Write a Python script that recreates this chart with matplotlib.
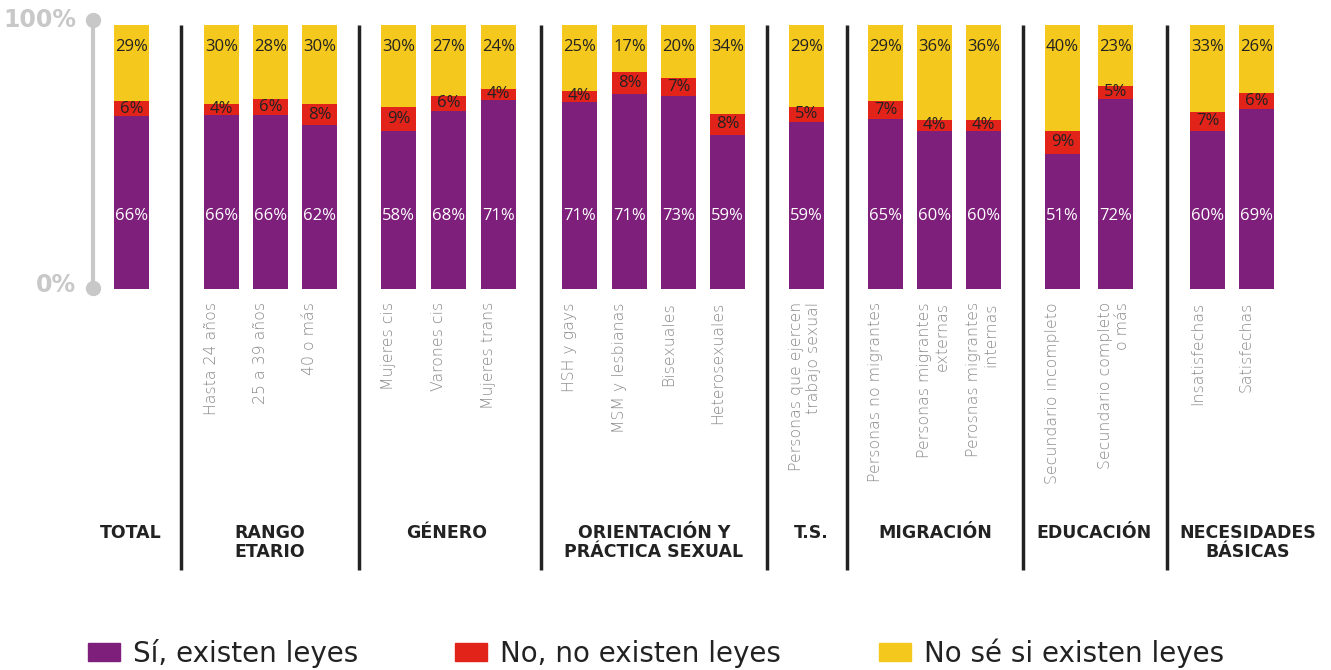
import matplotlib
matplotlib.use("Agg")
import matplotlib.pyplot as plt
from matplotlib.patches import Patch
import numpy as np

# --- data ---
categorias = ["", "Hasta 24 años", "25 a 39 años", "40 o más",
              "Mujeres cis", "Varones cis", "Mujeres trans",
              "HSH y gays", "MSM y lesbianas", "Bisexuales", "Heterosexuales",
              "Personas que ejercen\ntrabajo sexual",
              "Personas no migrantes", "Personas migrantes\nexternas", "Perosnas migrantes\ninternas",
              "Secundario incompleto", "Secundario completo\no más",
              "Insatisfechas", "Satisfechas"]
si_existen = [66, 66, 66, 62, 58, 68, 71, 71, 71, 73, 59, 59, 65, 60, 60, 51, 72, 60, 69]
no_existen = [6, 4, 6, 8, 9, 6, 4, 4, 8, 7, 8, 5, 7, 4, 4, 9, 5, 7, 6]
no_se = [29, 30, 28, 30, 30, 27, 24, 25, 17, 20, 34, 29, 29, 36, 36, 40, 23, 33, 26]
grupos = ["TOTAL", "RANGO\nETARIO", "GÉNERO", "ORIENTACIÓN Y\nPRÁCTICA SEXUAL", "T.S.",
          "MIGRACIÓN", "EDUCACIÓN", "NECESIDADES\nBÁSICAS"]
leyenda = ["Sí, existen leyes", "No, no existen leyes", "No sé si existen leyes"]

# --- layout (pixels) ---
xpos = [131.5, 221.5, 270.5, 319.5, 398.5, 448.5, 498.5, 579.5, 629.5, 678.5, 727.5,
        806.5, 885.5, 934.5, 983.5, 1062.5, 1115.5, 1207.5, 1256.5]
sep_x = [181, 359, 541, 767, 847, 1023, 1167]
grupo_x = [131, 270, 447, 654, 811, 935, 1094, 1248]
bar_w = 35

PURPLE = "#7e1f7c"
RED = "#e2231a"
YELLOW = "#f4c81c"
GRAY = "#c8c8c8"
DARK = "#222222"

Y0, SCALE = 289, 2.64   # pixel of 0% and pixels per percent


def py(p):
    # pixel row -> data value
    return (Y0 - p) / SCALE


fig = plt.figure(figsize=(13.31, 6.70), dpi=100)
ax = fig.add_axes([0, 0, 1, 1])
ax.set_xlim(0, 1331)
ax.set_ylim(py(670), py(0))
ax.axis("off")

p = np.array(si_existen, float)
r = np.array(no_existen, float)
y = np.array(no_se, float)
tot = p + r + y
p_n, r_n, y_n = p / tot * 100, r / tot * 100, y / tot * 100

ax.bar(xpos, p_n, width=bar_w, color=PURPLE)
ax.bar(xpos, r_n, width=bar_w, bottom=p_n, color=RED)
ax.bar(xpos, y_n, width=bar_w, bottom=p_n + r_n, color=YELLOW)

for i, x in enumerate(xpos):
    ax.text(x, py(216), f"{si_existen[i]}%", ha="center", va="center",
            color="white", fontsize=12, family="Open Sans")
    ax.text(x, p_n[i] + r_n[i] / 2, f"{no_existen[i]}%", ha="center", va="center",
            color=DARK, fontsize=12, family="Open Sans")
    ax.text(x, py(47), f"{no_se[i]}%", ha="center", va="center",
            color=DARK, fontsize=12, family="Open Sans")
    if categorias[i]:
        ax.text(x - bar_w / 2, py(302), categorias[i], rotation=90, ha="left", va="top",
                multialignment="right", color="#8a8a8a", fontsize=11.3,
                fontweight="light", linespacing=1.2)

# separators
ax.vlines(sep_x, py(570), py(25), color=DARK, lw=2.5)

# left axis
ax.plot([93, 93], [py(288), py(20)], color=GRAY, lw=3, solid_capstyle="butt")
ax.plot([93, 93], [py(288), py(20)], "o", color=GRAY, ms=10)
ax.text(76, py(20), "100%", ha="right", va="center", color=GRAY,
        fontsize=17, fontweight="bold")
ax.text(76, py(285), "0%", ha="right", va="center", color=GRAY,
        fontsize=17, fontweight="bold")

# group labels (baseline of the last line sits lower for two-line labels)
for gx, g in zip(grupo_x, grupos):
    ax.text(gx, py(538 + 19 * g.count("\n")), g, ha="center", va="baseline", color=DARK,
            fontsize=12.5, fontweight="bold", linespacing=1.05)

# legend
handles = [Patch(color=c) for c in (PURPLE, RED, YELLOW)]
fig.legend(handles, leyenda, loc="center left", bbox_to_anchor=(63 / 1331, 1 - 653 / 670),
           ncol=3, frameon=False, fontsize=20, handlelength=1.15, handleheight=0.58,
           handletextpad=0.47, columnspacing=3.5, labelcolor=DARK)

fig.savefig("out.png", dpi=100)
